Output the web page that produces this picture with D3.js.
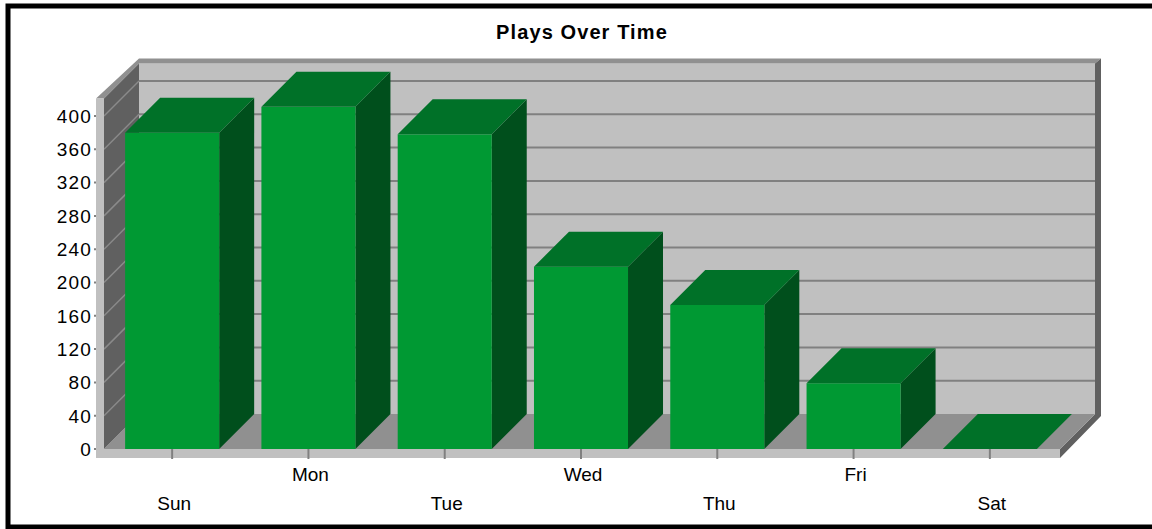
<!DOCTYPE html>
<html>
<head>
<meta charset="utf-8">
<script src="https://cdn.jsdelivr.net/npm/d3@7"></script>
<style>
  body { margin: 0; background: #fff; }
  text { font-family: "Liberation Sans", Arial, sans-serif; fill: #000; }
</style>
</head>
<body>
<div id="vis"></div>
<script>
// chart data
const days = ['Sun', 'Mon', 'Tue', 'Wed', 'Thu', 'Fri', 'Sat']
const plays = [380, 411, 378, 219, 173, 79, 0]
const yTicks = [0, 40, 80, 120, 160, 200, 240, 280, 320, 360, 400]

const width = 1152
const height = 529

// 3d depth offset
const dx = 35
const dy = 35

const svg = d3.select('#vis')
  .append('svg')
  .attr('width', width)
  .attr('height', height)

// frame
svg.append('rect')
  .attr('x', 8).attr('y', 6)
  .attr('width', 1150).attr('height', 521)
  .attr('fill', 'none')
  .attr('stroke', '#000')
  .attr('stroke-width', 5)

// title
svg.append('text')
  .attr('x', 582)
  .attr('y', 39)
  .attr('text-anchor', 'middle')
  .style('font-size', '20px')
  .style('font-weight', 'bold')
  .style('letter-spacing', '1.1px')
  .text('Plays Over Time')

// scales (front plane)
const xScale = d3.scaleBand()
  .domain(days)
  .range([104, 1058])
  .paddingInner(0.31)
  .paddingOuter(0.155)

const yScale = d3.scaleLinear()
  .domain([0, 400])
  .range([449, 116])

const x0 = 104, x1 = 1060
const y0 = yScale(0)
const yTop = yScale(421)

const poly = pts => pts.map(p => p.join(',')).join(' ')

// back wall
const walls = svg.append('g').attr('class', 'walls')

walls.append('rect')
  .attr('x', x0 + dx).attr('y', yTop - dy)
  .attr('width', x1 - x0).attr('height', y0 - yTop)
  .attr('fill', '#c0c0c0')

// back wall gridlines
walls.selectAll('.grid')
  .data(yTicks.filter(d => d > 0))
  .enter()
  .append('line')
  .attr('class', 'grid')
  .attr('x1', x0 + dx).attr('x2', x1 + dx)
  .attr('y1', d => yScale(d) - dy).attr('y2', d => yScale(d) - dy)
  .attr('stroke', '#808080')
  .attr('stroke-width', 2)

// back wall top edge
walls.append('polygon')
  .attr('points', poly([[x0 - 8, yTop], [x0 + dx, yTop - dy - 5], [x1 + dx + 6, yTop - dy - 5],
    [x1 + dx, yTop - dy], [x0 + dx, yTop - dy], [x0, yTop]]))
  .attr('fill', '#909090')

// right side of back wall and floor slab
walls.append('polygon')
  .attr('points', poly([[x1, y0], [x1 + dx, y0 - dy], [x1 + dx, yTop - dy], [x1 + dx + 6, yTop - dy - 5],
    [x1 + dx + 6, y0 - dy + 2], [x1, y0 + 9]]))
  .attr('fill', '#606060')

// floor
walls.append('polygon')
  .attr('points', poly([[x0, y0], [x1, y0], [x1 + dx, y0 - dy], [x0 + dx, y0 - dy]]))
  .attr('fill', '#909090')

// floor slab front
walls.append('rect')
  .attr('x', x0 - 8).attr('y', y0)
  .attr('width', x1 - x0 + 8).attr('height', 9)
  .attr('fill', '#c0c0c0')

// left wall
walls.append('polygon')
  .attr('points', poly([[x0, y0], [x0, yTop], [x0 + dx, yTop - dy], [x0 + dx, y0 - dy]]))
  .attr('fill', '#606060')

walls.selectAll('.side-grid')
  .data(yTicks.filter(d => d > 0))
  .enter()
  .append('line')
  .attr('class', 'side-grid')
  .attr('x1', x0).attr('x2', x0 + dx)
  .attr('y1', d => yScale(d)).attr('y2', d => yScale(d) - dy)
  .attr('stroke', '#8a8a8a')
  .attr('stroke-width', 1.5)

// left wall front face
walls.append('rect')
  .attr('x', x0 - 8).attr('y', yTop)
  .attr('width', 8).attr('height', y0 - yTop + 9)
  .attr('fill', '#c0c0c0')

// y axis ticks + labels
const yAxis = svg.append('g').attr('class', 'y-axis')
yAxis.selectAll('line')
  .data(yTicks)
  .enter()
  .append('line')
  .attr('x1', x0 - 10).attr('x2', x0 - 8)
  .attr('y1', d => yScale(d)).attr('y2', d => yScale(d))
  .attr('stroke', '#808080')
  .attr('stroke-width', 2)

yAxis.selectAll('text')
  .data(yTicks)
  .enter()
  .append('text')
  .attr('x', 92)
  .attr('y', d => yScale(d))
  .attr('dy', '0.36em')
  .attr('text-anchor', 'end')
  .style('font-size', '19px')
  .style('letter-spacing', '1.2px')
  .text(d => d)

// bars
const bars = svg.append('g').attr('class', 'bars')
  .selectAll('g')
  .data(days.map((d, i) => ({ day: d, value: plays[i] })))
  .enter()
  .append('g')

bars.append('polygon')
  .attr('points', d => {
    const a = xScale(d.day), b = a + xScale.bandwidth(), t = yScale(d.value)
    return poly([[b, t], [b + dx, t - dy], [b + dx, y0 - dy], [b, y0]])
  })
  .attr('fill', '#004f1c')

bars.append('rect')
  .attr('x', d => xScale(d.day))
  .attr('y', d => yScale(d.value))
  .attr('width', xScale.bandwidth())
  .attr('height', d => y0 - yScale(d.value))
  .attr('fill', '#009933')

bars.append('polygon')
  .attr('points', d => {
    const a = xScale(d.day), b = a + xScale.bandwidth(), t = yScale(d.value)
    return poly([[a, t], [b, t], [b + dx, t - dy], [a + dx, t - dy]])
  })
  .attr('fill', '#007128')

// x ticks + labels (staggered)
const xAxis = svg.append('g').attr('class', 'x-axis')
xAxis.selectAll('line')
  .data(days)
  .enter()
  .append('line')
  .attr('x1', d => xScale(d) + xScale.bandwidth() / 2)
  .attr('x2', d => xScale(d) + xScale.bandwidth() / 2)
  .attr('y1', y0).attr('y2', y0 + 10)
  .attr('stroke', '#808080')
  .attr('stroke-width', 2)

xAxis.selectAll('text')
  .data(days)
  .enter()
  .append('text')
  .attr('x', d => xScale(d) + xScale.bandwidth() / 2 + 2)
  .attr('y', (d, i) => i % 2 === 0 ? 510 : 481)
  .attr('text-anchor', 'middle')
  .style('font-size', '19px')
  .text(d => d)
</script>
</body>
</html>
